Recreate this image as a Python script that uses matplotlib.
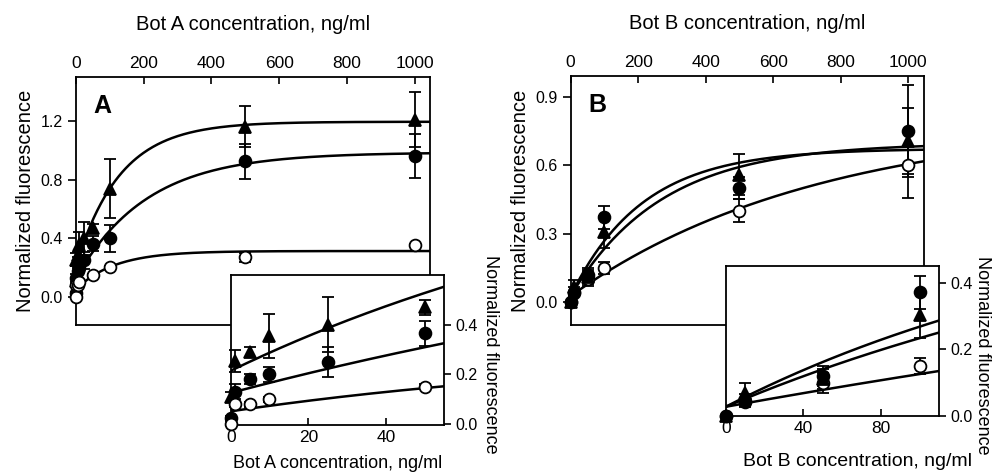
import numpy as np
import matplotlib
matplotlib.use("Agg")
import matplotlib.pyplot as plt

plt.rcParams["font.family"] = ["Liberation Sans", "DejaVu Sans"]
plt.rcParams["font.size"] = 12

# Bot A data
conc_a = [0, 1, 5, 10, 25, 50, 100, 500, 1000]
tri_a = [0.11, 0.255, 0.29, 0.355, 0.40, 0.47, 0.74, 1.16, 1.21]
tri_a_err = [0.02, 0.045, 0.02, 0.09, 0.11, 0.03, 0.20, 0.14, 0.19]
circ_a = [0.025, 0.13, 0.18, 0.20, 0.25, 0.365, 0.40, 0.925, 0.96]
circ_a_err = [0.01, 0.03, 0.02, 0.03, 0.06, 0.05, 0.09, 0.12, 0.15]
open_a = [0.0, 0.08, 0.08, 0.10, np.nan, 0.15, 0.205, 0.27, 0.355]
open_a_err = [0.0, 0.01, 0.01, 0.01, 0.0, 0.01, 0.01, 0.03, 0.01]

# Bot B data
conc_b = [0, 10, 50, 100, 500, 1000]
tri_b = [0.0, 0.068, 0.11, 0.305, 0.557, 0.705]
tri_b_err = [0.0, 0.03, 0.03, 0.07, 0.09, 0.145]
circ_b = [0.0, 0.045, 0.12, 0.372, 0.50, 0.75]
circ_b_err = [0.0, 0.02, 0.03, 0.05, 0.05, 0.20]
open_b = [0.0, 0.04, 0.10, 0.15, 0.40, 0.60]
open_b_err = [0.0, 0.01, 0.03, 0.025, 0.05, 0.145]

# fit parameters: y0, amplitude, rate  (y = y0 + amp*(1 - exp(-rate*x)))
fit_a_tri = [0.215, 0.98, 0.00768]
fit_a_circ = [0.126, 0.86, 0.0048]
fit_a_open = [0.052, 0.262, 0.0088]
fit_b_circ = [0.027, 0.645, 0.0047]
fit_b_tri = [0.027, 0.67, 0.0037]
fit_b_open = [0.027, 0.777, 0.00136]


def fit_curve(p, x):
    return p[0] + p[1] * (1 - np.exp(-p[2] * x))


def draw_panel(ax, conc, series, fits, xmax):
    xs = np.linspace(0, xmax, 300)
    for p in fits:
        ax.plot(xs, fit_curve(p, xs), color="black", lw=1.8, zorder=2)
    conc = np.array(conc)
    keep = conc <= xmax
    for y, err, marker, fill in series:
        y = np.array(y)[keep]
        err = np.array(err)[keep]
        ax.errorbar(conc[keep], y, yerr=err, fmt=marker, color="black", mfc=fill, mec="black",
                    ms=8.5, mew=1.3, elinewidth=1.3, capsize=4, capthick=1.3,
                    clip_on=False, zorder=3)


def style_main(ax, xlabel, yticks, panel):
    ax.set_xticks([0, 200, 400, 600, 800, 1000])
    ax.set_yticks(yticks)
    ax.set_yticklabels(["%.1f" % t for t in yticks])
    ax.xaxis.tick_top()
    ax.xaxis.set_label_position("top")
    ax.tick_params(axis="x", direction="in", length=5, width=1.2, pad=4, labelsize=12.5)
    ax.tick_params(axis="y", direction="out", length=6, width=1.2, labelsize=11.5)
    ax.set_xlabel(xlabel, labelpad=19, fontsize=14.5)
    ax.set_ylabel("Normalized fluorescence", labelpad=4, fontsize=14.5)
    ax.text(0.05, 0.93, panel, transform=ax.transAxes, fontsize=18, fontweight="bold", va="top")


def style_inset(ax, xticks, xlabel, xlabel_size, xlabel_pos, ylabel_pos):
    ax.set_xticks(xticks)
    ax.set_yticks([0.0, 0.2, 0.4])
    ax.set_yticklabels(["0.0", "0.2", "0.4"])
    ax.yaxis.tick_right()
    ax.tick_params(axis="x", direction="in", length=5, width=1.2, labelsize=12.5)
    ax.tick_params(axis="y", direction="out", length=5, width=1.2, labelsize=11.5)
    ax.text(xlabel_pos[0], xlabel_pos[1], xlabel, transform=ax.transAxes,
            fontsize=xlabel_size, ha="center", va="center")
    ax.text(ylabel_pos[0], ylabel_pos[1], "Normalized fluorescence", transform=ax.transAxes,
            fontsize=13, rotation=270, ha="center", va="center")


fig = plt.figure(figsize=(9.97, 4.75), dpi=100)

# ---- panel A main
ax_a = fig.add_axes([0.0762, 0.3158, 0.3551, 0.5221])
series_a = [(tri_a, tri_a_err, "^", "black"), (circ_a, circ_a_err, "o", "black"),
            (open_a, open_a_err, "o", "white")]
fits_a = [fit_a_tri, fit_a_circ, fit_a_open]
draw_panel(ax_a, conc_a, series_a, fits_a, 1045)
ax_a.set_xlim(0, 1045)
ax_a.set_ylim(-0.19, 1.5)
style_main(ax_a, "Bot A concentration, ng/ml", [0.0, 0.4, 0.8, 1.2], "A")

# ---- panel A inset
ins_a = fig.add_axes([0.2314, 0.1053, 0.2139, 0.3158])
draw_panel(ins_a, conc_a, series_a, fits_a, 55)
ins_a.set_xlim(0, 55)
ins_a.set_ylim(-0.003, 0.6)
style_inset(ins_a, [0, 20, 40], "Bot A concentration, ng/ml", 13, (0.5, -0.26), (1.216, 0.473))

# ---- panel B main
ax_b = fig.add_axes([0.5724, 0.3158, 0.3544, 0.5242])
series_b = [(open_b, open_b_err, "o", "white"), (tri_b, tri_b_err, "^", "black"),
            (circ_b, circ_b_err, "o", "black")]
fits_b = [fit_b_circ, fit_b_tri, fit_b_open]
draw_panel(ax_b, conc_b, series_b, fits_b, 1047)
ax_b.set_xlim(0, 1047)
ax_b.set_ylim(-0.1, 0.99)
style_main(ax_b, "Bot B concentration, ng/ml", [0.0, 0.3, 0.6, 0.9], "B")

# ---- panel B inset
ins_b = fig.add_axes([0.7279, 0.1248, 0.2139, 0.3152])
draw_panel(ins_b, conc_b, series_b, fits_b, 110)
ins_b.set_xlim(0, 110)
ins_b.set_ylim(0, 0.452)
style_inset(ins_b, [0, 40, 80], "Bot B concentration, ng/ml", 14, (0.62, -0.305), (1.205, 0.405))

for ax in [ax_a, ins_a, ax_b, ins_b]:
    for s in ax.spines.values():
        s.set_linewidth(1.3)

fig.savefig("out.png", dpi=100)
